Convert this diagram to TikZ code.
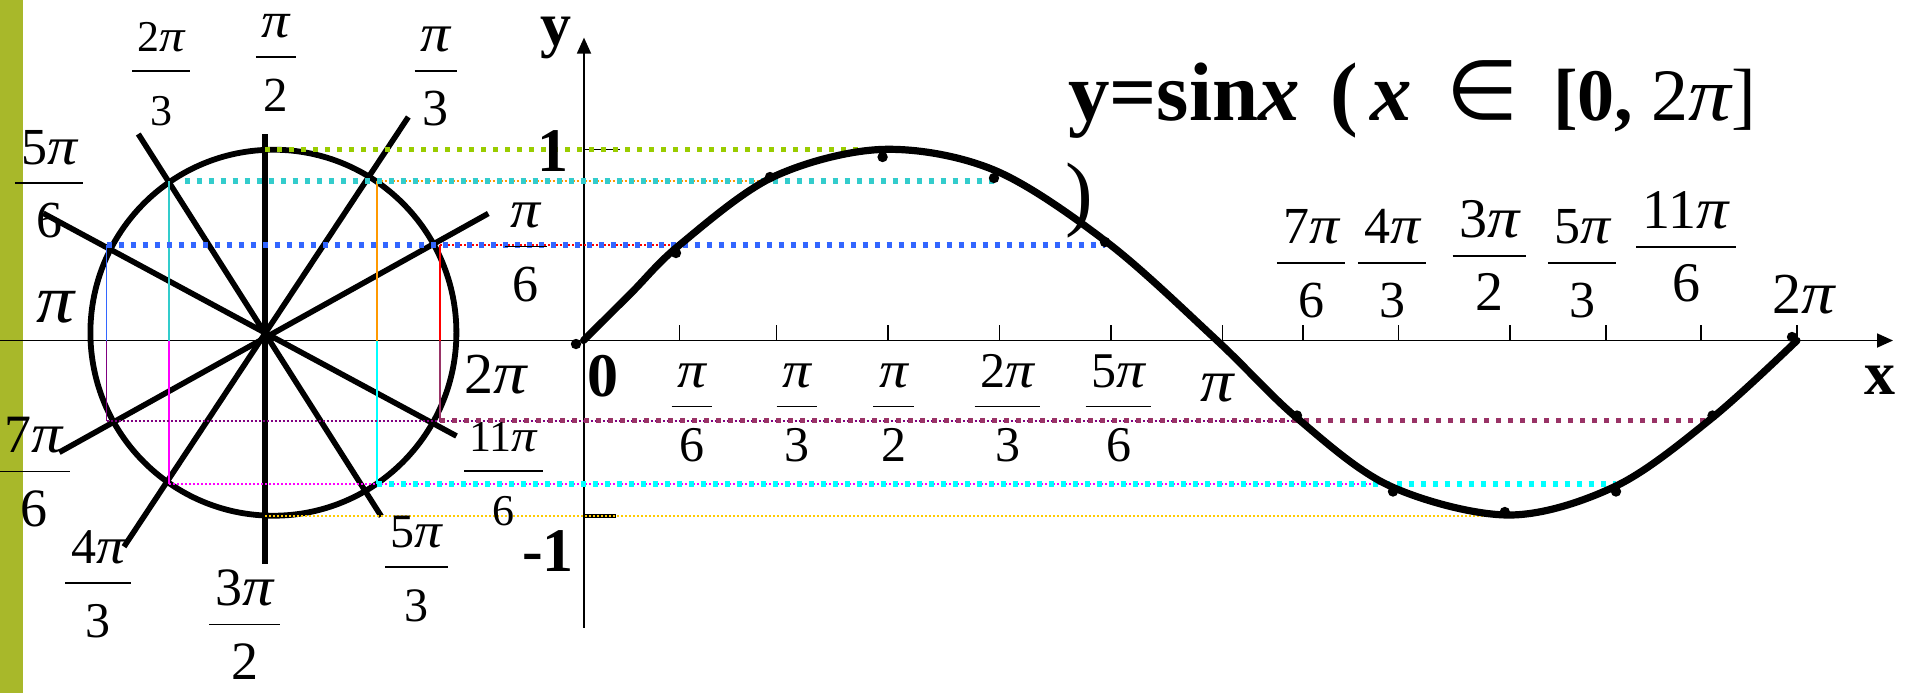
\documentclass[tikz,border=0pt]{standalone}
\usepackage{fontspec}
\setmainfont{Liberation Serif}
\newfontfamily\symfont{DejaVu Sans}
\usetikzlibrary{arrows.meta}
\newcommand\ppi{{\itshape\scalebox{1.15}[1.03]{π}}}
\newcommand\fr[3]{{\fontsize{#1}{#1}\selectfont\vbox{\offinterlineskip\halign{\hskip0.12em\hfil##\hfil\hskip0.12em\cr
\vrule height 18pt depth 9pt width 0pt#2\cr
\noalign{\hrule height 0.8pt}
\vrule height 27pt depth 0pt width 0pt#3\cr}}}}
\definecolor{barolive}{RGB}{168,184,42}
\definecolor{dgreen}{RGB}{153,204,0}
\definecolor{dteal}{RGB}{51,204,204}
\definecolor{dblue}{RGB}{51,102,255}
\definecolor{dplum}{RGB}{153,51,102}
\definecolor{dpurple}{RGB}{128,0,128}
\definecolor{dcyan}{RGB}{0,255,255}
\definecolor{dmag}{RGB}{255,0,255}
\definecolor{dorange}{RGB}{255,153,0}
\definecolor{dred}{RGB}{255,0,0}
\definecolor{dgold}{RGB}{255,204,0}
\tikzset{
  spoke/.style={line width=2.8pt},
  circ/.style={line width=2.9pt},
  thickdot/.style={line width=2.6pt, dash pattern=on 2.6pt off 3.4pt},
  thindot/.style={line width=1pt, dash pattern=on 1pt off 1pt},
  vthin/.style={line width=0.8pt},
  curvestyle/.style={line width=3.6pt, line cap=round, line join=round},
  axis/.style={line width=0.9pt, -{Triangle[length=8pt,width=7pt]}},
  tickmark/.style={line width=0.75pt},
  lab/.style={inner sep=0pt, outer sep=0pt},
  blab/.style={inner sep=0pt, outer sep=0pt, font=\fontsize{31}{31}\selectfont\bfseries},
  ttl/.style={inner sep=0pt, outer sep=0pt, font=\fontsize{41.5}{41.5}\selectfont}
}
\begin{document}
\begin{tikzpicture}[x=0.5pt, y=-0.5pt]
\useasboundingbox (0,0) rectangle (1908,693);
\fill[white] (0,0) rectangle (1908,693);
\fill[barolive] (0,0) rectangle (22.7,693);

% coordinates
\coordinate (C) at (273.4,332.7);
\coordinate (e90) at (265,134);   \coordinate (e270) at (265,563.5);
\coordinate (e120) at (138.3,134); \coordinate (e300) at (381.3,516.3);
\coordinate (e60) at (408.3,117); \coordinate (e240) at (124,546.7);
\coordinate (e30) at (488.3,213.5); \coordinate (e210) at (59.3,452.3);
\coordinate (e150) at (43.3,213.3); \coordinate (e330) at (456.5,436);
\coordinate (p90) at (265,149.3); \coordinate (p270) at (265,516);
\coordinate (p120) at (169,181); \coordinate (p120s) at (184.5,181);
\coordinate (p60) at (376.7,181);
\coordinate (p150) at (106.5,245); \coordinate (p30) at (440,245);
\coordinate (p210) at (106.5,420.5); \coordinate (p330) at (440,420.5);
\coordinate (p240) at (169,484); \coordinate (p300) at (376.7,484);
\coordinate (f150) at (106.5,340.5); \coordinate (f120) at (169,340.5);
\coordinate (f60) at (376.7,340.5); \coordinate (f30) at (440,340.5);
\coordinate (q90) at (882.6,149.3); \coordinate (q120) at (994,181);
\coordinate (q60) at (773,181); \coordinate (q150) at (1105,245);
\coordinate (q30) at (679.5,245); \coordinate (q210) at (1297,420.5);
\coordinate (q330) at (1712,420.5); \coordinate (q240) at (1393,484);
\coordinate (q300) at (1616,484); \coordinate (q270) at (1505,516);
\coordinate (xs) at (0,340.5); \coordinate (xe) at (1893,340.5);
\coordinate (ys) at (584,627.6); \coordinate (ye) at (584,37.6);

% axes
\draw[axis] (xs) -- (xe);
\draw[axis] (ys) -- (ye);
\foreach \t in {679.5,776.3,888,999.5,1111,1222.7,1303,1398.7,1510,1606,1701,1797}
  \draw[tickmark] (\t,325) -- (\t,340.5);
\draw[tickmark] (584,149.3) -- (620,149.3);
\draw[line width=2pt] (584,516) -- (616,516);

% circle and spokes
\draw[circ] (C) circle (91.5pt);
\draw[spoke] (e90) -- (e270);
\draw[spoke] (e120) -- (e300);
\draw[spoke] (e60) -- (e240);
\draw[spoke] (e30) -- (e210);
\draw[spoke] (e150) -- (e330);

% thin vertical projections
\draw[vthin, dblue] (p150) -- (f150);
\draw[vthin, dpurple] (f150) -- (p210);
\draw[vthin, dteal] (p120) -- (f120);
\draw[vthin, dmag] (f120) -- (p240);
\draw[vthin, dorange] (p60) -- (f60);
\draw[vthin, dcyan] (f60) -- (p300);
\draw[vthin, dred] (p30) -- (f30);
\draw[vthin, dplum] (f30) -- (p330);

% dotted projections
\draw[thindot, dorange] (p60) -- (q60);
\draw[thindot, dred] (p30) -- (q30);
\draw[thindot, dpurple] (p210) -- (q210);
\draw[thindot, dmag] (p240) -- (q240);
\draw[thindot, dgold] (p270) -- (q270);
\draw[thickdot, dgreen] (p90) -- (q90);
\draw[thickdot, dteal] (p120s) -- (q120);
\draw[thickdot, dblue] (p150) -- (q150);
\draw[thickdot, dplum] (p330) -- (q330);
\draw[thickdot, dcyan] (p300) -- (q300);

% sine curve
\draw[curvestyle] plot[smooth, tension=0.55] coordinates {
 (583.5,340.5) (631.5,292.7) (679.5,245) (773,177) (882.6,149.4) (994,170)
 (1108,243) (1217,340.5) (1297,418) (1390,486) (1509,515) (1616,486)
 (1712,418) (1797,340.5)};
\foreach \p in {(576,344),(676,253),(770,177),(882.6,157),(994,178),(1105,242),
  (1297,415.5),(1393,491.5),(1504.8,512),(1616,491.5),(1712.5,415.5),(1792,337)}
  \fill \p circle (2.6pt);

% circle labels
\node[lab] (l120) at (161.3,71) {\fr{22}{2\ppi}{3}};
\node[lab] (l90) at (275.8,56.7) {\fr{24.5}{\ppi}{2}};
\node[lab] (l60) at (435.8,71) {\fr{26}{\ppi}{3}};
\node[lab] (l150) at (49,183.3) {\fr{26}{5\ppi}{6}};
\node[lab] (l30) at (525.8,246.7) {\fr{26}{\ppi}{6}};
\node[lab, font=\fontsize{33}{33}\selectfont] (l180) at (56,307) {\ppi};
\node[lab, font=\fontsize{29}{29}\selectfont] (l0) at (496,375) {2\ppi};
\node[lab] (l210) at (34,471.7) {\fr{27}{7\ppi}{6}};
\node[lab] (l330) at (503.4,471) {\fr{22}{11\ppi}{6}};
\node[lab] (l240) at (98.3,583) {\fr{25}{4\ppi}{3}};
\node[lab] (l270) at (244.7,624.5) {\fr{27}{3\ppi}{2}};
\node[lab] (l300) at (416.6,567) {\fr{24}{5\ppi}{3}};

% axis labels
\node[lab] (a30) at (692,406.6) {\fr{25}{\ppi}{6}};
\node[lab] (a60) at (797,406.6) {\fr{25}{\ppi}{3}};
\node[lab] (a90) at (893.5,406.6) {\fr{25}{\ppi}{2}};
\node[lab] (a120) at (1007.5,406.6) {\fr{25}{2\ppi}{3}};
\node[lab] (a150) at (1118.5,406.6) {\fr{25}{5\ppi}{6}};
\node[lab, font=\fontsize{29}{29}\selectfont] (a180) at (1217,388) {\ppi};
\node[lab] (a210) at (1311,263) {\fr{26}{7\ppi}{6}};
\node[lab] (a240) at (1392,263) {\fr{26}{4\ppi}{3}};
\node[lab] (a270) at (1489.5,255.5) {\fr{28}{3\ppi}{2}};
\node[lab] (a300) at (1582,263) {\fr{26}{5\ppi}{3}};
\node[lab] (a330) at (1686,246.6) {\fr{28}{11\ppi}{6}};
\node[lab, font=\fontsize{29}{29}\selectfont] (a360) at (1803.5,295) {2\ppi};

% bold axis labels
\node[blab] (ylab) at (555.5,37.6) {y};
\node[blab] (one) at (553,151) {1};
\node[blab] (mone) at (548,551) {-1};
\node[blab] (zero) at (603,376) {0};
\node[blab] (xlab) at (1880,380) {x};

% title
\node[ttl, anchor=base west] (t1) at (1068,120) {\bfseries y=sin{\itshape x}};
\node[ttl, anchor=base west] (t2) at (1330,120) {\bfseries (};
\node[ttl, anchor=base west] (t3) at (1370,120) {\bfseries\itshape x};
\node[ttl] (t4) at (1482.5,90) {\symfont ∈};
\node[lab, anchor=base west, font=\fontsize{37}{37}\selectfont] (t5) at (1553,120) {{\bfseries [0,}\hspace{0.25em}2\ppi]};
\node[ttl] (t6) at (1079.5,201) {)};
\end{tikzpicture}
\end{document}
